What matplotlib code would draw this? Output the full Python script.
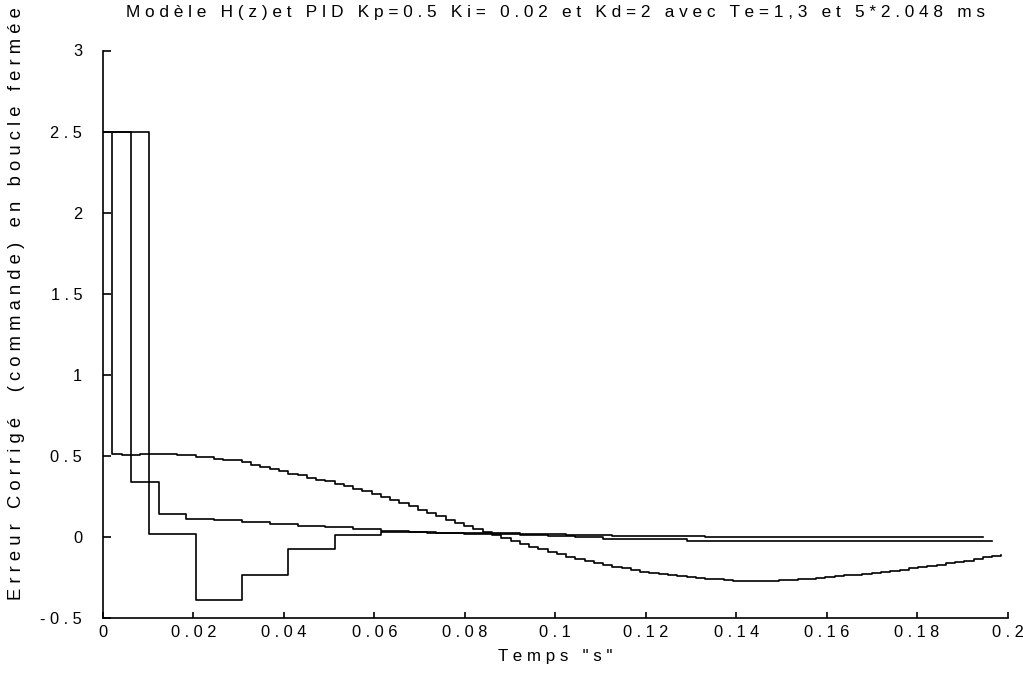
import numpy as np
import matplotlib
matplotlib.use("Agg")
import matplotlib.pyplot as plt

# ---------------- data ----------------
te_base = 0.002048
periods = [1 * te_base, 3 * te_base, 5 * te_base]

# Te = 2.048 ms
cmd_te1 = [2.5, 0.515, 0.504, 0.504, 0.515, 0.515, 0.515, 0.515, 0.504, 0.504,
           0.494, 0.494, 0.484, 0.473, 0.473, 0.463, 0.443, 0.432, 0.42, 0.405,
           0.391, 0.381, 0.365, 0.355, 0.345, 0.33, 0.318, 0.30, 0.285, 0.268,
           0.25, 0.23, 0.21, 0.19, 0.17, 0.148, 0.128, 0.108, 0.088, 0.068,
           0.05, 0.03, 0.012, -0.005, -0.025, -0.04, -0.058, -0.075, -0.09, -0.105,
           -0.12, -0.135, -0.148, -0.162, -0.172, -0.183, -0.193, -0.203, -0.213, -0.22,
           -0.228, -0.236, -0.24, -0.247, -0.252, -0.257, -0.26, -0.263, -0.267, -0.267,
           -0.268, -0.268, -0.267, -0.265, -0.262, -0.258, -0.255, -0.25, -0.246, -0.242,
           -0.236, -0.232, -0.226, -0.22, -0.214, -0.207, -0.2, -0.193, -0.186, -0.178,
           -0.17, -0.162, -0.153, -0.144, -0.135, -0.125, -0.115, -0.107]

# Te = 3*2.048 ms
cmd_te3 = [2.5, 0.34, 0.144, 0.114, 0.103, 0.093, 0.083, 0.072, 0.062, 0.052,
           0.04, 0.033, 0.027, 0.022, 0.018, 0.014, 0.005, 0.0, -0.012, -0.012,
           -0.012, -0.022, -0.022, -0.022, -0.022, -0.022, -0.022, -0.022, -0.022, -0.022,
           -0.022, -0.022, -0.022]

# Te = 5*2.048 ms
cmd_te5 = [2.5, 0.021, -0.39, -0.236, -0.072, 0.015, 0.031, 0.028, 0.025, 0.02,
           0.012, 0.01, 0.01, 0.0, 0.0, 0.0, 0.0, 0.0, 0.0, 0.0]

x_ticks = [0, 0.02, 0.04, 0.06, 0.08, 0.1, 0.12, 0.14, 0.16, 0.18, 0.2]
x_tick_labels = ["0", "0.02", "0.04", "0.06", "0.08", "0.1", "0.12", "0.14", "0.16", "0.18", "0.2"]
y_ticks = [-0.5, 0, 0.5, 1, 1.5, 2, 2.5, 3]
y_tick_labels = ["-0.5", "0", "0.5", "1", "1.5", "2", "2.5", "3"]

title = "Modèle H(z)et PID Kp=0.5 Ki= 0.02 et Kd=2 avec Te=1,3 et 5*2.048 ms"
xlabel = 'Temps "s"'
ylabel = "Erreur Corrigé  (commande) en boucle fermée"

# ---------------- style ----------------
FONT = ["Liberation Sans Narrow", "Liberation Sans", "DejaVu Sans"]
plt.rcParams["font.family"] = FONT


def spaced(s):
    # old-style letter-spaced rendering
    return " ".join(s)


W, H = 1023, 673
fig = plt.figure(figsize=(W / 100, H / 100), dpi=100)
ax = fig.add_axes([103 / W, 1 - 618.3 / H, (1007.5 - 103) / W, (618.3 - 50.5) / H])

for per, vals in zip(periods, [cmd_te1, cmd_te3, cmd_te5]):
    t = np.arange(len(vals)) * per
    ax.plot(t, vals, drawstyle="steps-post", color="black", lw=1.2)

ax.set_xlim(0, 0.2)
ax.set_ylim(-0.5, 3)
ax.spines["top"].set_visible(False)
ax.spines["right"].set_visible(False)
for sp in ("left", "bottom"):
    ax.spines[sp].set_linewidth(1.2)

ax.set_xticks(x_ticks)
ax.set_xticklabels([spaced(s) for s in x_tick_labels])
ax.set_yticks(y_ticks)
ax.set_yticklabels([spaced(s) for s in y_tick_labels])
ax.tick_params(axis="both", direction="in", width=1.2, labelsize=11.8, colors="black")
ax.tick_params(axis="x", length=4.5, pad=5)
ax.tick_params(axis="y", length=5.5, pad=15)

fig.text(555 / W, 1 - 12 / H, spaced(title), ha="center", va="center", fontsize=12.4)
fig.text(555 / W, 1 - 656 / H, spaced(xlabel), ha="center", va="center", fontsize=12.2)
fig.text(17 / W, 1 - 304 / H, spaced(ylabel), ha="center", va="center", rotation=90, fontsize=13.2)

fig.savefig("out.png", dpi=100)
